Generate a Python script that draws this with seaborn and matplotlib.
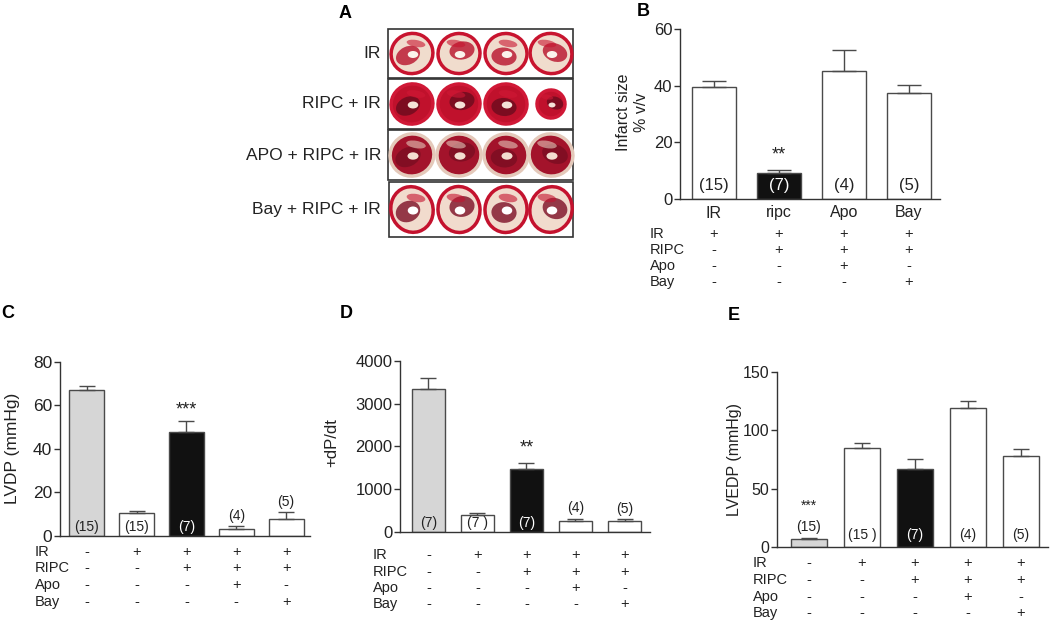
import numpy as np
import pandas as pd
import matplotlib
matplotlib.use('Agg')
import matplotlib.pyplot as plt
import seaborn as sns
from matplotlib import transforms
from matplotlib.patches import Ellipse, Rectangle

W, H = 1052, 624

# ---- data ----
infarct_groups = ['IR', 'ripc', 'Apo', 'Bay']
infarct_mean = [39.5, 9.1, 45.4, 37.4]
infarct_sem = [2.3, 1.0, 7.3, 2.8]
infarct_n = ['(15)', '(7)', '(4)', '(5)']

treat_rows = ['IR', 'RIPC', 'Apo', 'Bay']
signs_b = [['+', '+', '+', '+'],
           ['-', '+', '+', '+'],
           ['-', '-', '+', '-'],
           ['-', '-', '-', '+']]
signs_cde = [['-', '+', '+', '+', '+'],
             ['-', '-', '+', '+', '+'],
             ['-', '-', '-', '+', '-'],
             ['-', '-', '-', '-', '+']]

groups5 = ['control', 'IR', 'RIPC+IR', 'Apo+RIPC+IR', 'Bay+RIPC+IR']
lvdp_mean = [67.0, 10.3, 47.5, 3.2, 7.7]
lvdp_sem = [1.8, 1.0, 5.4, 1.2, 3.0]
lvdp_n = ['(15)', '(15)', '(7)', '(4)', '(5)']

dpdt_mean = [3350, 390, 1460, 258, 250]
dpdt_sem = [250, 40, 150, 47, 39]
dpdt_n = ['(7)', '(7 )', '(7)', '(4)', '(5)']

lvedp_mean = [7.4, 84.5, 66.9, 118.7, 78.0]
lvedp_sem = [0.9, 4.3, 8.5, 6.5, 5.7]
lvedp_n = ['(15)', '(15 )', '(7)', '(4)', '(5)']

heart_rows = ['IR', 'RIPC + IR', 'APO + RIPC + IR', 'Bay + RIPC + IR']

# ---- style ----
sns.set_style('ticks')
plt.rcParams['font.family'] = ['Liberation Sans', 'DejaVu Sans']
INK = '#222222'
EDGE = '#4a4a4a'
GREY = '#d6d6d6'
BLACK = '#111111'

fig = plt.figure(figsize=(W / 100, H / 100), dpi=100)
fig.patch.set_facecolor('white')
pix = transforms.Affine2D().scale(1 / W, -1 / H).translate(0, 1) + fig.transFigure


def ftext(x, y, s, **kw):
    kw.setdefault('color', INK)
    fig.text(x, y, s, transform=pix, **kw)


def bar_panel(box, groups, means, sems, colors, ymax, yticks, xlim, width,
              tick_size, capsize=6):
    l, t, r, b = box
    ax = fig.add_axes([l / W, 1 - b / H, (r - l) / W, (b - t) / H])
    df = pd.DataFrame({'group': groups, 'value': means})
    sns.barplot(data=df, x='group', y='value', hue='group',
                palette=dict(zip(groups, colors)), legend=False,
                width=width, edgecolor=EDGE, linewidth=1.0, saturation=1,
                errorbar=None, ax=ax)
    ax.errorbar(np.arange(len(groups)), means,
                yerr=[np.zeros(len(sems)), sems], fmt='none',
                ecolor=EDGE, elinewidth=1.0, capsize=capsize, capthick=1.0)
    ax.set_xlim(*xlim)
    ax.set_ylim(0, ymax)
    ax.set_yticks(yticks)
    ax.set_xlabel('')
    ax.set_ylabel('')
    ax.set_facecolor('none')
    for side in ['top', 'right']:
        ax.spines[side].set_visible(False)
    for side in ['left', 'bottom']:
        ax.spines[side].set_color('#333333')
        ax.spines[side].set_linewidth(1.0)
    ax.tick_params(axis='y', length=4, width=1, color='#333333',
                   labelsize=tick_size, labelcolor=INK, pad=1.5)
    ax.tick_params(axis='x', length=0, labelbottom=False)
    return ax


def n_labels(ax, means, sems, labels, where, colors, size, inside_pad):
    for i, (m, s, lab, w, c) in enumerate(zip(means, sems, labels, where, colors)):
        tc = 'white' if c == BLACK else INK
        if w == 'in':
            ax.annotate(lab, (i, 0), xytext=(0, inside_pad),
                        textcoords='offset points', ha='center', va='bottom',
                        fontsize=size, color=tc)
        else:
            ax.annotate(lab, (i, m + s), xytext=(0, 2.5),
                        textcoords='offset points', ha='center', va='bottom',
                        fontsize=size, color=tc)


def stars(ax, i, top, text, offset, size):
    ax.annotate(text, (i, top), xytext=(0, offset), textcoords='offset points',
                ha='center', va='center', fontsize=size, color=INK)


def sign_table(ax, signs, row_ys, label_x, size):
    xt = transforms.blended_transform_factory(ax.transData, pix)
    for name, row, y in zip(treat_rows, signs, row_ys):
        ftext(label_x, y, name, ha='left', va='center', fontsize=size)
        for i, sgn in enumerate(row):
            ax.text(i, y, sgn, transform=xt, ha='center', va='center',
                    fontsize=size, color=INK)


# ---- panel A: heart slices drawn schematically ----
axA = fig.add_axes([0, 0, 1, 1])
axA.set_xlim(0, W)
axA.set_ylim(H, 0)
axA.axis('off')
axA.set_zorder(-1)

boxes_a = [(388, 29, 573, 78), (388, 79, 573, 129), (388, 130, 573, 180),
           (389, 182, 573, 237)]
heart_x = [412, 459, 506, 551]
blot_dx = [-4, 3, -2, 4]
blot_dy = [2, -3, 3, -1]
row_style = [
    dict(fill='#f0dccd', ring='#c8142f', core='#b8122c', hole='#fbf3ec'),
    dict(fill='#c0112c', ring='#d01836', core='#6b0b1d', hole='#f5e2d8'),
    dict(fill='#a3132b', ring='#e4c9ba', core='#7a0d21', hole='#f3ddd0'),
    dict(fill='#f1dbcd', ring='#c4122e', core='#7d0f26', hole='#ffffff'),
]
for k, ((x0, y0, x1, y1), lab, st) in enumerate(zip(boxes_a, heart_rows, row_style)):
    axA.add_patch(Rectangle((x0, y0), x1 - x0, y1 - y0, fill=False,
                            edgecolor='#333333', linewidth=1.2))
    ftext(381, (y0 + y1) / 2, lab, ha='right', va='center', fontsize=12.5)
    cy = (y0 + y1) / 2
    for j, cx in enumerate(heart_x):
        rx, ry = 21, 20
        if k == 1 and j == 3:
            rx, ry = 14, 14
        if k == 2:
            rx, ry = 22, 21
        if k == 3:
            ry = 23
        axA.add_patch(Ellipse((cx, cy), 2 * rx, 2 * ry, angle=12 * (j - 1.5),
                              facecolor=st['fill'], edgecolor=st['ring'],
                              linewidth=2.5))
        axA.add_patch(Ellipse((cx + blot_dx[j], cy + blot_dy[j]), 1.2 * rx,
                              0.9 * ry, angle=-25 + 15 * j,
                              facecolor=st['core'], edgecolor='none',
                              alpha=0.8))
        axA.add_patch(Ellipse((cx - blot_dx[j], cy - 0.5 * ry), 0.9 * rx,
                              0.35 * ry, angle=10, facecolor=st['ring'],
                              edgecolor='none', alpha=0.6))
        axA.add_patch(Ellipse((cx + 1, cy + 1), 0.5 * rx, 0.35 * ry,
                              facecolor=st['hole'], edgecolor='none'))

# ---- panel B ----
colors_b = ['white', BLACK, 'white', 'white']
axB = bar_panel((680, 29.3, 940, 199), infarct_groups, infarct_mean,
                infarct_sem, colors_b, 60, [0, 20, 40, 60], (-0.52, 3.48),
                0.68, 12, capsize=8.5)
n_labels(axB, infarct_mean, infarct_sem, infarct_n,
         ['in', 'in', 'in', 'in'], colors_b, 12, 4)
stars(axB, 1, infarct_mean[1] + infarct_sem[1], '**', 11, 13)
xtB = transforms.blended_transform_factory(axB.transData, pix)
for i, g in enumerate(infarct_groups):
    axB.text(i, 213, g, transform=xtB, ha='center', va='center',
             fontsize=11.5, color=INK)
sign_table(axB, signs_b, [234, 250, 266, 282], 650, 10.5)
ftext(623, 112, 'Infarct size', rotation=90, ha='center', va='center',
      fontsize=11.5)
ftext(641, 112, '% v/v', rotation=90, ha='center', va='center',
      fontsize=11.5)

# ---- panel C ----
colors5 = [GREY, 'white', BLACK, 'white', 'white']
axC = bar_panel((60, 361.7, 310, 535.7), groups5, lvdp_mean, lvdp_sem,
                colors5, 80, [0, 20, 40, 60, 80], (-0.54, 4.48), 0.7, 12.5)
n_labels(axC, lvdp_mean, lvdp_sem, lvdp_n, ['in', 'in', 'in', 'top', 'top'],
         colors5, 10, 1.5)
stars(axC, 2, lvdp_mean[2] + lvdp_sem[2], '***', 8, 13)
sign_table(axC, signs_cde, [552, 568, 585, 602], 35, 10.5)
ftext(13, 448, 'LVDP (mmHg)', rotation=90, ha='center', va='center',
      fontsize=12.5)

# ---- panel D ----
axD = bar_panel((400, 361, 650, 531.7), groups5, dpdt_mean, dpdt_sem,
                colors5, 4000, [0, 1000, 2000, 3000, 4000], (-0.58, 4.52),
                0.67, 12)
n_labels(axD, dpdt_mean, dpdt_sem, dpdt_n, ['in', 'in', 'in', 'top', 'top'],
         colors5, 10, 1.5)
stars(axD, 2, dpdt_mean[2] + dpdt_sem[2], '**', 11, 13)
sign_table(axD, signs_cde, [555, 572, 588, 604], 373, 10.5)
ftext(332, 443, '+dP/dt', rotation=90, ha='center', va='center',
      fontsize=12)

# ---- panel E ----
axE = bar_panel((777, 371.7, 1048, 547.3), groups5, lvedp_mean, lvedp_sem,
                colors5, 150, [0, 50, 100, 150], (-0.6, 4.51), 0.68, 11.5)
n_labels(axE, lvedp_mean, lvedp_sem, lvedp_n,
         ['top', 'in', 'in', 'in', 'in'], colors5, 10, 4)
stars(axE, 0, lvedp_mean[0] + lvedp_sem[0], '***', 23, 10)
sign_table(axE, signs_cde, [563, 580, 597, 613], 753, 10.5)
ftext(735, 460, 'LVEDP (mmHg)', rotation=90, ha='center', va='center',
      fontsize=11.5)

# ---- panel letters ----
for lab, x, y in [('A', 345, 13), ('B', 643, 12), ('C', 8, 313),
                  ('D', 346, 313), ('E', 734, 315)]:
    ftext(x, y, lab, ha='center', va='center', fontsize=13,
          fontweight='bold', color='black')

fig.savefig('out.png', dpi=100)
